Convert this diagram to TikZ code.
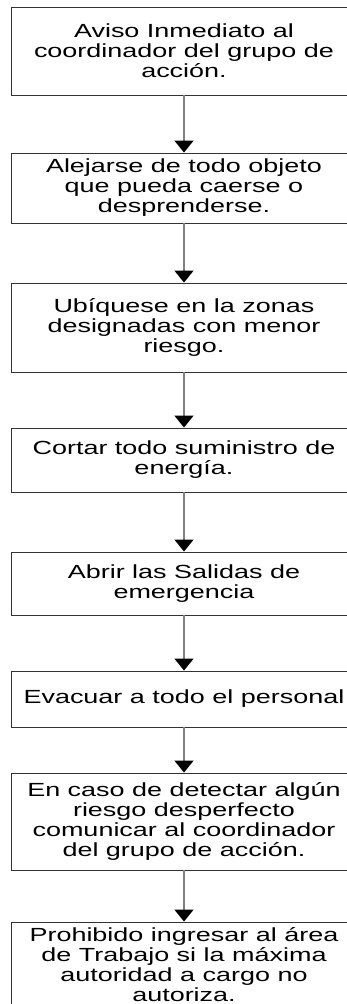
\documentclass[tikz,border=0pt]{standalone}
\usepackage{fontspec}
\setmainfont{Liberation Sans}[FakeStretch=1.42]
\usepackage{xcolor}
\usepackage{tikz}
\usetikzlibrary{arrows.meta}

\begin{document}
\begin{tikzpicture}[x=1pt, y=-1pt,
    paso/.style={draw=black!80, line width=0.9pt, fill=white, align=center,
                 font=\fontsize{19}{20}\selectfont, inner sep=2pt,
                 minimum width=\bw},
    flecha/.style={draw=gray, line width=1.6pt,
                   -{Triangle[width=19pt, length=12pt, color=black]}}]
  \def\bw{346pt}
  \clip (0,0) rectangle (347,1004);

  \node[paso, minimum height=88pt] (aviso)     at (184,51)    {Aviso Inmediato al\\coordinador del grupo de\\acción.};
  \node[paso, minimum height=70pt] (alejarse)  at (184,188)   {Alejarse de todo objeto\\que pueda caerse o\\desprenderse.};
  \node[paso, minimum height=89pt] (ubicarse)  at (184,327.5) {Ubíquese en la zonas\\designadas con menor\\riesgo.};
  \node[paso, minimum height=64pt] (cortar)    at (184,460)   {Cortar todo suministro de\\energía.};
  \node[paso, minimum height=63pt] (salidas)   at (184,583.5) {Abrir las Salidas de\\emergencia};
  \node[paso, minimum height=56pt] (evacuar)   at (184,699)   {Evacuar a todo el personal};
  \node[paso, minimum height=97pt] (riesgo)    at (184,821.5) {En caso de detectar algún\\riesgo desperfecto\\comunicar al coordinador\\del grupo de acción.};
  \node[paso, minimum height=86pt] (prohibido) at (184,965)   {Prohibido ingresar al área\\de Trabajo si la máxima\\autoridad a cargo no\\autoriza.};

  \draw[flecha] (aviso) -- (alejarse);
  \draw[flecha] (alejarse) -- (ubicarse);
  \draw[flecha] (ubicarse) -- (cortar);
  \draw[flecha] (cortar) -- (salidas);
  \draw[flecha] (salidas) -- (evacuar);
  \draw[flecha] (evacuar) -- (riesgo);
  \draw[flecha] (riesgo) -- (prohibido);
\end{tikzpicture}
\end{document}
